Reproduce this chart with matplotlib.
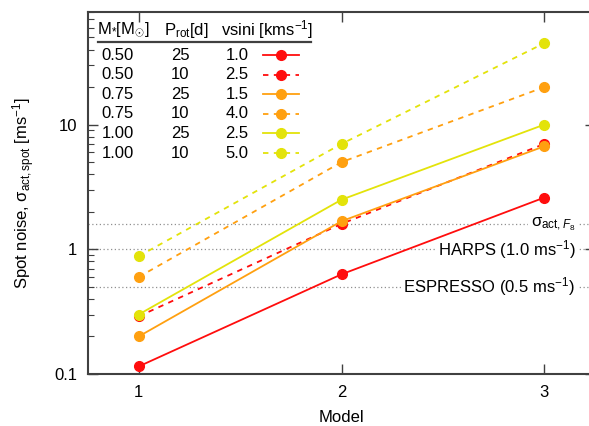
import numpy as np
import matplotlib.pyplot as plt

plt.rcParams["font.family"] = "Liberation Sans"
plt.rcParams["font.size"] = 11
plt.rcParams["mathtext.fontset"] = "custom"
plt.rcParams["mathtext.rm"] = "Liberation Sans"
plt.rcParams["mathtext.it"] = "Liberation Sans:italic"
plt.rcParams["mathtext.bf"] = "Liberation Sans:bold"

# data
models = [1, 2, 3]
mass = ["0.50", "0.50", "0.75", "0.75", "1.00", "1.00"]
prot = ["25", "10", "25", "10", "25", "10"]
vsini = ["1.0", "2.5", "1.5", "4.0", "2.5", "5.0"]
noise = [
    [0.115, 0.63, 2.6],
    [0.29, 1.6, 7.0],
    [0.20, 1.68, 6.7],
    [0.60, 5.0, 20.0],
    [0.30, 2.5, 10.0],
    [0.88, 7.0, 45.0],
]
colors = ["#ff0d0d", "#ff0d0d", "#ffa010", "#ffa010", "#e3e30a", "#e3e30a"]
dashed = [False, True, False, True, False, True]

ref_levels = [1.6, 1.0, 0.5]
ref_labels = [r"σ$_{\mathrm{act},F_8}$", r"HARPS (1.0 ms$^{-1}$)", r"ESPRESSO (0.5 ms$^{-1}$)"]

W, H = 589, 426
fig = plt.figure(figsize=(W / 100, H / 100), dpi=100)
# axes box in pixels: left 88, right 595 (off the canvas), top 12, bottom 374
L, R, T, B = 88, 595, 12, 374
ax = fig.add_axes([L / W, (H - B) / H, (R - L) / W, (B - T) / H])


def px(x, y):
    # pixel position -> axes fraction
    return (x - L) / (R - L), (B - y) / (B - T)


ax.set_yscale("log")
ax.set_xlim(0.75, 3.25)
ax.set_ylim(0.1, 80)

for lev, lab in zip(ref_levels, ref_labels):
    ax.axhline(lev, color="#909090", lw=0.9, ls=(0, (1, 2)), zorder=1)
    ax.text(3.153, lev, lab, ha="right", va="center", fontsize=12,
            bbox=dict(facecolor="white", edgecolor="none", pad=2), zorder=2)

for vals, c, d in zip(noise, colors, dashed):
    ls = (0, (3, 3)) if d else "-"
    ax.plot(models, vals, color=c, lw=1.3, ls=ls, marker="o", ms=7, zorder=3)

# table-style key
ax.text(*px(123, 30), r"M$_{*}$[M$_{\odot}$]", transform=ax.transAxes, ha="center", va="center", fontsize=12)
ax.text(*px(186, 30), r"P$_{\mathrm{rot}}$[d]", transform=ax.transAxes, ha="center", va="center", fontsize=12)
ax.text(*px(267, 30), r"vsini [kms$^{-1}$]", transform=ax.transAxes, ha="center", va="center", fontsize=12)
x0, y0 = px(98, 42)
x1, _ = px(311, 42)
ax.plot([x0, x1], [y0, y0], color="#404040", lw=1.6, transform=ax.transAxes, clip_on=False)

for i in range(6):
    ry = 55 + 19.6 * i
    ax.text(*px(118, ry), mass[i], transform=ax.transAxes, ha="center", va="center", fontsize=12)
    ax.text(*px(180, ry), prot[i], transform=ax.transAxes, ha="center", va="center", fontsize=12)
    ax.text(*px(237, ry), vsini[i], transform=ax.transAxes, ha="center", va="center", fontsize=12)
    a, yy = px(263, ry)
    b, _ = px(299, ry)
    m, _ = px(281, ry)
    ls = (0, (3, 3)) if dashed[i] else "-"
    ax.plot([a, b], [yy, yy], color=colors[i], lw=1.3, ls=ls, transform=ax.transAxes)
    ax.plot([m], [yy], color=colors[i], marker="o", ms=7, transform=ax.transAxes)

ax.set_xticks(models)
ax.set_yticks([0.1, 1, 10])
ax.set_yticklabels(["0.1", "1", "10"])
ax.tick_params(which="both", direction="in", top=True, right=True, colors="#404040",
               labelcolor="black", labelsize=12, pad=8)
ax.tick_params(which="major", length=7, width=1)
ax.tick_params(which="minor", length=4, width=0.8)
for s in ax.spines.values():
    s.set_color("#404040")
    s.set_linewidth(1.5)

ax.set_xlabel("Model", fontsize=12, labelpad=7)
ax.set_ylabel(r"Spot noise, σ$_{\mathrm{act,spot}}$ [ms$^{-1}$]", fontsize=12, labelpad=12)

fig.savefig("out.png", dpi=100)
